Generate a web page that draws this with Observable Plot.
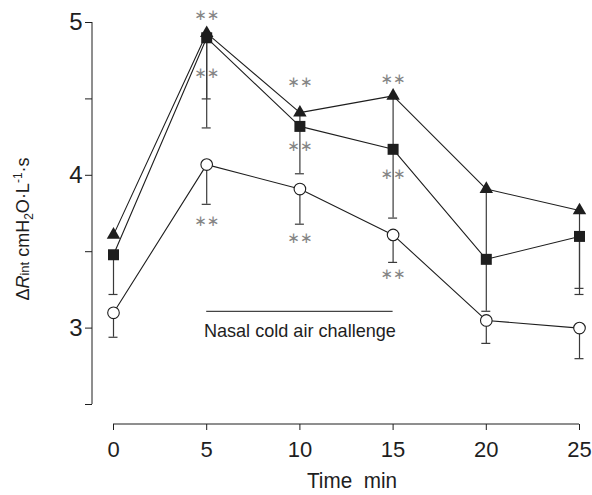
<!DOCTYPE html>
<html><head><meta charset="utf-8">
<script src="https://cdn.jsdelivr.net/npm/d3@7"></script>
<script src="https://cdn.jsdelivr.net/npm/@observablehq/plot@0.6"></script>
<style>body{margin:0;background:#fff}</style>
</head><body><div id="chart"></div>
<script>
// ---- data ----
const times = [0, 5, 10, 15, 20, 25];
const triangleMean  = [3.61, 4.93, 4.41, 4.52, 3.91, 3.77];
const triangleLower = [null, 4.31, 4.01, 3.72, 3.11, 3.22];
const squareMean    = [3.48, 4.90, 4.32, 4.17, 3.45, 3.60];
const squareLower   = [3.22, 4.50, null, null, null, 3.26];
const circleMean    = [3.10, 4.07, 3.91, 3.61, 3.05, 3.00];
const circleLower   = [2.94, 3.81, 3.68, 3.43, 2.90, 2.80];
const starTimes  = [5, 5, 5, 10, 10, 10, 15, 15, 15];
const starValues = [5.05, 4.67, 3.70, 4.61, 4.19, 3.59, 4.63, 4.01, 3.35];
const yTicks = [2.5, 3, 3.5, 4, 4.5, 5];
const xTicks = [0, 5, 10, 15, 20, 25];
const challengeStart = 5, challengeEnd = 15, challengeLevel = 3.11, challengeLabelLevel = 2.98;
const challengeLabel = "Nasal cold air challenge";
const xLabel = "Time  min";

const seriesDefs = [
  {name: "circle", mean: circleMean, lower: circleLower},
  {name: "square", mean: squareMean, lower: squareLower},
  {name: "triangle", mean: triangleMean, lower: triangleLower}
];
const rows = seriesDefs.flatMap(s => times.map((t, i) => ({series: s.name, t, v: s.mean[i], lo: s.lower[i]})));
const errRows = rows.filter(d => d.lo != null);
const stars = starTimes.map((t, i) => ({t, v: starValues[i]}));
const challenge = [{start: challengeStart, end: challengeEnd, level: challengeLevel, labelLevel: challengeLabelLevel, text: challengeLabel}];

const ink = "#1e1e1e";
const font = "'Liberation Sans', Arial, sans-serif";
const plot = Plot.plot({
  width: 592, height: 495,
  marginLeft: 92, marginRight: 13, marginTop: 22, marginBottom: 71,
  x: {domain: [0, 25], range: [113, 579]},
  y: {domain: [2.5, 5], range: [404, 22]},
  style: {fontFamily: font, color: ink, background: "white"},
  marks: [
    Plot.axisY(yTicks, {tickSize: 7, tickPadding: 3, fontSize: 24, stroke: ink,
      tickFormat: d => Number.isInteger(d) ? String(d) : "", label: null}),
    Plot.axisX(xTicks, {tickSize: 6, tickPadding: 11, fontSize: 22, stroke: ink, label: null}),
    Plot.ruleX(errRows, {x: "t", y1: "v", y2: "lo", stroke: "#3a3a3a", strokeWidth: 1.2}),
    Plot.ruleY(errRows, {y: "lo", x1: "t", x2: "t", insetLeft: -4.5, insetRight: -4.5, stroke: "#3a3a3a", strokeWidth: 1.2}),
    Plot.line(rows, {x: "t", y: "v", z: "series", stroke: ink, strokeWidth: 1.1}),
    Plot.dot(rows.filter(d => d.series === "circle"), {x: "t", y: "v", r: 5.8, fill: "white", stroke: ink, strokeWidth: 1.1}),
    Plot.dot(rows.filter(d => d.series === "square"), {x: "t", y: "v", symbol: "square", r: 6.2, fill: ink}),
    Plot.dot(rows.filter(d => d.series === "triangle"), {x: "t", y: "v", symbol: "triangle", r: 5, fill: ink}),
    Plot.text(stars, {x: "t", y: "v", text: () => "∗∗", fill: "#858585", fontSize: 15, fontFamily: "DejaVu Sans"}),
    Plot.ruleY(challenge, {y: "level", x1: "start", x2: "end", stroke: "#444", strokeWidth: 1.2}),
    Plot.text(challenge, {x: d => (d.start + d.end) / 2, y: "labelLevel", text: "text", fontSize: 19, fill: ink})
  ]
});

const svg = d3.select(plot);
const xs = plot.scale("x"), ys = plot.scale("y");
// axis lines
svg.append("line").attr("x1", 92).attr("x2", 92)
  .attr("y1", ys.apply(d3.max(yTicks))).attr("y2", ys.apply(d3.min(yTicks)))
  .attr("stroke", ink);
svg.append("line").attr("y1", 424).attr("y2", 424)
  .attr("x1", xs.apply(d3.min(xTicks))).attr("x2", xs.apply(d3.max(xTicks)))
  .attr("stroke", ink);
// condense the challenge label a little, like the reference's narrow face
svg.selectAll("text").filter(function() { return this.textContent === challengeLabel; })
  .attr("textLength", 192).attr("lengthAdjust", "spacingAndGlyphs");
// y label
const yl = svg.append("text").attr("transform", "translate(29,229) rotate(-90)")
  .attr("text-anchor", "middle").attr("font-size", 18).attr("fill", ink)
  .attr("font-family", font);
yl.append("tspan").text("Δ");
yl.append("tspan").attr("font-style", "italic").text("R");
yl.append("tspan").attr("font-size", 13).text("int");
yl.append("tspan").text(" cmH");
yl.append("tspan").attr("font-size", 12).attr("dy", 4).text("2");
yl.append("tspan").attr("dy", -4).text("O·L");
yl.append("tspan").attr("font-size", 12).attr("dy", -7).text("-1");
yl.append("tspan").attr("dy", 7).text("·s");
// x label
svg.append("text").attr("x", (xs.apply(0) + xs.apply(25)) / 2 + 6).attr("y", 488)
  .attr("text-anchor", "middle").attr("font-size", 22).attr("fill", ink)
  .attr("font-family", font).attr("textLength", 90).attr("lengthAdjust", "spacingAndGlyphs")
  .style("white-space", "pre").text(xLabel);

document.getElementById("chart").appendChild(plot);
</script>
</body></html>
